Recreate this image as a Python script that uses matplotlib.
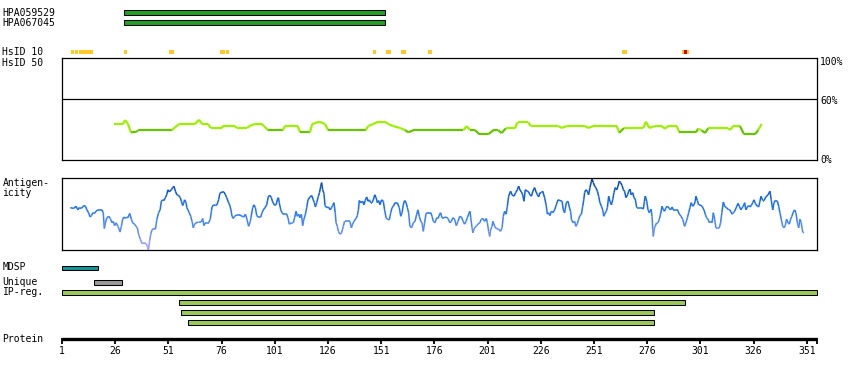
import numpy as np
import matplotlib
matplotlib.use("Agg")
import matplotlib.pyplot as plt
from matplotlib.collections import LineCollection
from matplotlib.colors import LinearSegmentedColormap
from matplotlib.patches import Rectangle

plt.rcParams['font.family'] = ['DejaVu Sans Mono']

protein_length = 355

# antibody target regions (start, end residue)
antibodies = ["HPA059529", "HPA067045"]
antibody_regions = [(30, 152), (30, 152)]

# HsID 10 hits (start, end residue)
hsid10_hits = [(5.2, 6.6), (7.3, 8.5), (9.0, 15.6), (30.1, 31.5), (51.3, 53.6),
               (75.2, 77.7), (78.1, 79.5), (147.1, 148.6), (153.3, 155.6),
               (160.3, 162.7), (173.0, 174.9), (264.2, 266.5), (292.4, 295.6)]
hsid10_red = [(293.3, 294.7)]

# sequence identity (%) along the protein
ident_pos = [25.4, 29.5, 30.7, 32.0, 33.4, 36.1, 36.6, 52.5, 56.0, 63.5, 65.4, 66.8,
             69.6, 70.9, 76.0, 76.8, 82.3, 83.1, 88.1, 89.0, 91.7, 94.8, 95.9, 97.9,
             104.7, 105.8, 111.8, 112.8, 117.5, 118.6, 121.9, 124.6, 126.1, 143.7,
             144.9, 147.3, 149.6, 152.8, 154.3, 156.7, 159.8, 162.2, 163.7, 166.1,
             189.6, 191.2, 192.7, 195.1, 197.1, 201.3, 203.7, 206.0, 207.6, 209.6,
             213.9, 215.1, 220.1, 221.3, 234.2, 235.8, 238.2, 246.8, 248.3, 250.7,
             261.7, 262.9, 265.1, 274.2, 275.4, 277.0, 279.7, 282.8, 284.4, 285.9,
             289.9, 291.1, 298.9, 300.0, 301.6, 303.2, 304.7, 314.1, 314.9, 316.5,
             319.6, 321.5, 326.7, 328.2, 329.8]
ident_pct = [35.1, 35.1, 39.3, 35.4, 27.2, 27.8, 29.2, 29.2, 35.4, 35.4, 39.6, 35.4,
             35.4, 31.5, 31.5, 33.4, 33.4, 31.5, 31.5, 33.4, 35.4, 35.4, 33.4, 29.2,
             29.2, 33.4, 33.4, 27.2, 27.2, 35.4, 37.7, 35.4, 29.2, 29.2,
             33.4, 35.4, 37.7, 37.7, 35.4, 33.4, 31.5, 29.5, 27.2, 29.2,
             29.2, 33.4, 29.5, 29.5, 25.3, 25.3, 29.2, 29.2, 26.5, 31.2,
             31.2, 37.1, 37.1, 33.4, 33.4, 31.5, 33.4, 33.4, 31.5, 33.4,
             33.4, 26.8, 31.5, 31.5, 37.7, 31.5, 33.4, 33.4, 30.8, 33.4,
             33.4, 27.2, 27.2, 30.8, 29.2, 26.5, 31.2, 31.2, 29.5, 33.4,
             33.4, 25.3, 25.3, 29.5, 35.4]

# antigenicity score (0 = low, 1 = high)
antig_pos = [4.9, 6.5, 7.6, 8.5, 9.1, 10.1, 10.7, 11.3, 12.0, 12.7, 13.5, 14.2, 14.8,
             15.6, 16.2, 17.0, 17.9, 19.0, 19.8, 20.4, 20.9, 21.4, 22.1, 22.9, 23.7,
             24.5, 25.1, 25.7, 26.4, 27.3, 28.3, 28.9, 29.5, 30.1, 30.8, 31.4, 32.0,
             32.8, 33.6, 34.2, 35.1, 35.8, 36.4, 37.0, 37.8, 38.6, 39.5, 40.5, 41.1,
             41.6, 42.2, 42.7, 43.3, 44.1, 44.9, 45.6, 46.4, 47.1, 47.7, 48.3, 48.9,
             49.6, 50.2, 50.8, 51.4, 52.4, 53.0, 53.6, 54.3, 55.0, 55.8, 56.6, 57.1,
             57.7, 58.2, 58.6, 59.3, 59.7, 60.2, 60.8, 61.5, 62.1, 62.7, 63.3, 64.0,
             65.2, 66.5, 67.1, 67.7, 68.4, 69.9, 70.7, 71.2, 71.5, 72.3, 73.1, 73.8,
             74.6, 75.2, 76.2, 77.1, 77.8, 78.4, 79.3, 79.8, 80.4, 80.9, 81.5, 82.1,
             83.2, 84.5, 85.6, 86.4, 87.2, 87.9, 88.7, 89.5,
             89.8, 90.6, 91.2, 91.9, 92.5, 93.3, 94.4, 95.0, 95.6, 96.4, 97.2, 98.0,
             98.8, 99.4, 100.0, 100.8, 101.6, 102.2, 102.7, 103.1, 103.8, 104.4, 105.0,
             106.6, 107.2, 107.8, 109.0, 109.7, 110.3, 111.0, 111.6, 112.2, 112.8,
             113.5, 114.1, 114.7, 115.4, 116.0, 116.6, 117.6, 118.3, 119.1, 119.6,
             120.1, 120.7, 121.5, 122.0, 122.6, 123.0, 123.5, 124.1, 124.6, 125.4,
             126.2, 127.0, 127.6, 128.2, 128.8, 129.4, 129.8, 130.4, 130.9, 131.6,
             132.4, 133.2, 133.8, 134.8, 136.3, 137.0, 137.6, 138.2, 139.2, 139.8,
             140.3, 140.7, 141.5, 142.3, 142.9, 143.5, 144.2, 144.8, 145.4, 146.1,
             146.7, 147.3, 148.0, 148.6, 149.2, 149.8, 150.4, 151.2, 152.0, 152.6,
             153.3, 153.9, 154.8, 155.5, 156.1, 156.7, 157.6, 158.6, 159.5, 160.2,
             160.8, 161.4, 162.0, 162.7, 163.3, 163.9, 164.5, 165.3, 166.1, 166.9,
             167.7, 168.3, 168.9, 169.6, 170.2, 170.8, 171.4, 172.1, 173.2, 174.3,
             174.9, 175.5, 176.3, 177.1,
             177.7, 178.5, 178.9, 179.6, 180.5, 181.5, 182.4, 183.3, 184.0, 184.7,
             185.5, 186.3, 187.1, 187.9, 188.7, 189.5, 190.2, 190.9, 191.5, 192.1,
             192.7, 193.1, 193.7, 194.1, 194.6, 195.2, 195.9, 196.5, 197.3, 198.1,
             198.8, 199.6, 200.4, 200.9, 201.5, 202.0, 202.4, 203.1, 203.5, 204.3,
             205.1, 206.2, 207.1, 207.8, 208.4, 209.0, 209.7, 210.3, 210.9, 211.8,
             212.5, 213.4, 214.2, 215.0, 215.6, 216.2, 216.9, 217.5, 218.1, 218.7,
             219.7, 220.3, 220.9, 221.6, 222.3, 223.1, 223.8, 224.4, 225.0, 225.6,
             226.3, 226.9, 227.8, 228.5, 229.1, 229.7, 230.3, 231.0, 231.7, 232.5,
             233.3, 234.1, 235.0, 236.0, 236.6, 237.2, 238.0, 238.8, 239.4, 240.0,
             240.4, 241.1, 241.9, 242.5, 243.2, 243.8, 244.4, 245.1, 245.7, 246.2,
             246.6, 247.2, 247.9, 248.5, 249.1, 249.8, 250.1, 250.7, 251.3, 251.9,
             252.6, 253.2, 253.8, 254.5, 255.1, 255.6, 256.0, 256.8, 257.3, 257.9,
             258.5, 259.2, 259.8, 260.4, 261.0, 261.7, 262.3, 262.9, 263.5, 264.2,
             264.8, 265.4,
             266.0, 266.8, 267.3, 267.9, 268.5, 269.2, 269.8, 270.4, 271.1, 272.3,
             273.6, 274.2, 274.7, 275.1, 275.8, 276.4, 277.0, 277.8, 278.3, 278.6,
             278.9, 279.4, 279.8, 280.4, 281.1, 281.7, 282.3, 283.0, 283.6, 284.2,
             284.8, 285.5, 286.4, 287.0, 287.7, 288.3, 289.5, 290.3, 291.1, 291.9,
             292.7, 293.6, 294.2, 294.9, 295.5, 296.1, 296.7, 297.4, 298.0, 298.6,
             298.9, 299.6, 300.2, 300.8, 301.8, 302.7, 303.3, 303.9, 304.6, 305.2,
             305.8, 306.5, 307.1, 307.7, 308.3, 309.1, 309.9, 310.5, 311.1, 311.8,
             312.4, 313.3, 314.3, 314.9, 315.9, 316.5, 317.1, 318.0, 318.7, 319.3,
             320.1, 320.6, 321.2, 321.8, 322.4, 323.1, 323.7, 324.3, 324.9, 325.6,
             326.2, 326.8, 327.8, 328.4, 329.0, 329.5, 330.3, 330.9, 331.8, 332.8,
             333.7, 334.3, 335.0, 335.6, 336.2, 337.2, 337.8, 338.4, 339.0, 339.7,
             340.3, 340.9, 341.5, 342.2, 342.8, 343.4, 344.0, 344.7, 345.3, 345.9,
             346.6, 347.2, 347.8, 348.4, 349.1, 349.7]
antig_val = [0.59, 0.58, 0.61, 0.56, 0.59, 0.58, 0.60, 0.62, 0.61, 0.56, 0.52, 0.46, 0.48,
             0.52, 0.51, 0.54, 0.56, 0.56, 0.56, 0.52, 0.30, 0.38, 0.45, 0.47, 0.44,
             0.38, 0.40, 0.34, 0.38, 0.33, 0.25, 0.33, 0.43, 0.46, 0.44, 0.46, 0.45,
             0.51, 0.43, 0.38, 0.36, 0.33, 0.31, 0.22, 0.15, 0.09, 0.10, 0.09, 0.05,
             0.00, 0.13, 0.22, 0.28, 0.30, 0.29, 0.43, 0.52, 0.56, 0.68, 0.70, 0.69,
             0.73, 0.77, 0.84, 0.81, 0.84, 0.87, 0.89, 0.82, 0.77, 0.76, 0.73, 0.68,
             0.62, 0.66, 0.70, 0.66, 0.59, 0.56, 0.52, 0.47, 0.40, 0.31, 0.36, 0.38,
             0.39, 0.39, 0.44, 0.34, 0.38, 0.38, 0.43, 0.54, 0.60, 0.63, 0.62, 0.63,
             0.70, 0.79, 0.81, 0.81, 0.77, 0.73, 0.66, 0.63, 0.56, 0.47, 0.44, 0.47,
             0.49, 0.49, 0.47, 0.46, 0.50, 0.43, 0.33, 0.40,
             0.45, 0.59, 0.63, 0.59, 0.48, 0.46, 0.46, 0.52, 0.56, 0.59, 0.63, 0.75,
             0.76, 0.73, 0.67, 0.63, 0.63, 0.70, 0.73, 0.66, 0.56, 0.52, 0.50,
             0.50, 0.45, 0.36, 0.38, 0.38, 0.45, 0.54, 0.47, 0.50, 0.45,
             0.50, 0.34, 0.43, 0.50, 0.59, 0.70, 0.74, 0.76, 0.70, 0.66,
             0.60, 0.66, 0.75, 0.80, 0.89, 0.94, 0.84, 0.79, 0.62, 0.59,
             0.60, 0.56, 0.59, 0.62, 0.66, 0.52, 0.38, 0.33, 0.26, 0.22,
             0.24, 0.33, 0.40, 0.40, 0.40, 0.31, 0.36, 0.40, 0.44, 0.48,
             0.56, 0.69, 0.66, 0.68, 0.63, 0.69, 0.74, 0.68, 0.70, 0.66,
             0.66, 0.70, 0.77, 0.73, 0.66, 0.69, 0.63, 0.70, 0.68, 0.56,
             0.45, 0.43, 0.42, 0.52, 0.59, 0.61, 0.66, 0.66, 0.59, 0.47,
             0.52, 0.63, 0.69, 0.66, 0.59, 0.52, 0.33, 0.31, 0.38, 0.40,
             0.50, 0.56, 0.47, 0.40, 0.38, 0.26, 0.38, 0.51, 0.52, 0.52,
             0.47, 0.40, 0.38, 0.45,
             0.44, 0.50, 0.52, 0.45, 0.45, 0.46, 0.44, 0.38, 0.40, 0.45,
             0.43, 0.34, 0.40, 0.47, 0.46, 0.40, 0.36, 0.40, 0.45, 0.50,
             0.54, 0.45, 0.31, 0.24, 0.29, 0.32, 0.34, 0.36, 0.38, 0.43,
             0.44, 0.40, 0.44, 0.38, 0.26, 0.19, 0.28, 0.33, 0.40, 0.33,
             0.30, 0.29, 0.26, 0.31, 0.47, 0.54, 0.50, 0.61, 0.75, 0.82,
             0.77, 0.75, 0.80, 0.84, 0.89, 0.84, 0.81, 0.77, 0.68, 0.84,
             0.82, 0.81, 0.77, 0.75, 0.82, 0.87, 0.81, 0.77, 0.74, 0.80,
             0.80, 0.82, 0.73, 0.63, 0.50, 0.52, 0.48, 0.54, 0.52, 0.56,
             0.63, 0.70, 0.69, 0.68, 0.56, 0.52, 0.66, 0.68, 0.60, 0.54,
             0.43, 0.38, 0.40, 0.33, 0.37, 0.43, 0.48, 0.50, 0.61, 0.70,
             0.80, 0.84, 0.82, 0.77, 0.87, 0.96, 0.99, 0.94, 0.89, 0.87,
             0.82, 0.75, 0.66, 0.61, 0.56, 0.47, 0.50, 0.54, 0.59, 0.75,
             0.68, 0.63, 0.70, 0.80, 0.87, 0.84, 0.89, 0.96, 0.94, 0.90,
             0.84, 0.82,
             0.73, 0.77, 0.82, 0.85, 0.77, 0.80, 0.73, 0.71, 0.59, 0.59,
             0.59, 0.57, 0.68, 0.75, 0.68, 0.56, 0.52, 0.57, 0.47, 0.29,
             0.19, 0.31, 0.33, 0.38, 0.38, 0.43, 0.50, 0.61, 0.56, 0.54,
             0.59, 0.61, 0.58, 0.56, 0.60, 0.56, 0.56, 0.56, 0.50, 0.47,
             0.43, 0.33, 0.38, 0.45, 0.52, 0.59, 0.66, 0.61, 0.63, 0.68,
             0.75, 0.69, 0.63, 0.63, 0.61, 0.56, 0.50, 0.45, 0.43, 0.38,
             0.40, 0.38, 0.52, 0.43, 0.31, 0.30, 0.31, 0.38, 0.52, 0.67,
             0.61, 0.59, 0.56, 0.56, 0.50, 0.52, 0.54, 0.60, 0.65, 0.61,
             0.56, 0.59, 0.61, 0.66, 0.56, 0.60, 0.62, 0.60, 0.62, 0.66,
             0.70, 0.65, 0.61, 0.60, 0.68, 0.75, 0.69, 0.69, 0.74, 0.77,
             0.82, 0.70, 0.56, 0.66, 0.69, 0.68, 0.61, 0.52, 0.43, 0.33,
             0.31, 0.34, 0.43, 0.38, 0.36, 0.43, 0.47, 0.53, 0.56, 0.52,
             0.38, 0.31, 0.43, 0.38, 0.25, 0.24]

# feature tracks (start, end residue)
mdsp_region = (1, 17)
unique_region = (16, 28)
ip_regions = [(1, 355), (56, 293), (57, 278), (60, 278)]

tick_res = list(range(1, 352, 25))

# ---- layout (pixels) ----
W, H = 850, 380
LEFT = 62
PPR = 755.4 / protein_length      # pixels per residue


def rx(px):
    # pixel column -> residue coordinate
    return 1 + (px - LEFT) / PPR


fig = plt.figure(figsize=(W / 100, H / 100), dpi=100)
fig.patch.set_facecolor('white')

ax = fig.add_axes([0, 0, 1, 1])
ax.set_xlim(rx(0), rx(W))
ax.set_ylim(H, 0)
ax.axis('off')

fs = 7


def bar(start, end, yc, color, h=4.4):
    ax.add_patch(Rectangle((start, yc - h / 2), end + 1 - start, h,
                           facecolor=color, edgecolor='black', lw=0.75))


# antibodies
for name, (s, e), yc in zip(antibodies, antibody_regions, [12.5, 22.5]):
    bar(s, e, yc, '#22a022')
    ax.text(rx(2.5), yc, name, fontsize=fs, va='center', ha='left')

# HsID rows
ax.text(rx(2.5), 52, "HsID 10", fontsize=fs, va='center')
ax.text(rx(2.5), 62.5, "HsID 50", fontsize=fs, va='center')
for s, e in hsid10_hits:
    ax.add_patch(Rectangle((s, 49.7), e - s, 4.6, facecolor='#ffc822', lw=0))
for s, e in hsid10_red:
    ax.add_patch(Rectangle((s, 49.7), e - s, 4.6, facecolor='#dd0000', lw=0))

# identity panel
ax_id = fig.add_axes([LEFT / W, (H - 160) / H, 755.4 / W, 101.7 / H])
ax_id.set_xlim(1, protein_length + 1)
ax_id.set_ylim(0, 100)
ax_id.set_xticks([])
ax_id.set_yticks([])
for sp in ax_id.spines.values():
    sp.set_linewidth(0.9)
ax_id.axhline(60, color='black', lw=0.9)
pts = np.column_stack([ident_pos, ident_pct])
segs = np.stack([pts[:-1], pts[1:]], axis=1)
mean = (pts[:-1, 1] + pts[1:, 1]) / 2
cols = ['#9cf000' if m >= 30 else '#66c400' for m in mean]
ax_id.add_collection(LineCollection(segs, colors=cols, linewidths=1.6,
                                    capstyle='butt', joinstyle='miter'))
ax.text(rx(820), 62, "100%", fontsize=fs, va='center')
ax.text(rx(820), 100.5, "60%", fontsize=fs, va='center')
ax.text(rx(820), 160, "0%", fontsize=fs, va='center')

# antigenicity panel
ax.text(rx(2.5), 182.5, "Antigen-", fontsize=fs, va='center')
ax.text(rx(2.5), 192.5, "icity", fontsize=fs, va='center')
ax_ag = fig.add_axes([LEFT / W, (H - 250) / H, 755.4 / W, 71.7 / H])
ax_ag.set_xlim(1, protein_length + 1)
ax_ag.set_ylim(0, 1)
ax_ag.set_xticks([])
ax_ag.set_yticks([])
for sp in ax_ag.spines.values():
    sp.set_linewidth(0.9)
cmap = LinearSegmentedColormap.from_list(
    'ag', [(0, '#aaa2ff'), (0.22, '#6a8cff'), (0.4, '#3e84ff'),
           (0.6, '#1a70f5'), (0.82, '#0a5ad6'), (1, '#083c90')])
pts = np.column_stack([antig_pos, antig_val])
segs = np.stack([pts[:-1], pts[1:]], axis=1)
lc = LineCollection(segs, cmap=cmap, linewidths=1.1)
lc.set_array((pts[:-1, 1] + pts[1:, 1]) / 2)
lc.set_clim(0, 1)
ax_ag.add_collection(lc)

# feature tracks
ax.text(rx(2.5), 267.5, "MDSP", fontsize=fs, va='center')
bar(mdsp_region[0], mdsp_region[1], 267.8, '#109898')
ax.text(rx(2.5), 282, "Unique", fontsize=fs, va='center')
bar(unique_region[0], unique_region[1], 282.3, '#999999')
ax.text(rx(2.5), 292, "IP-reg.", fontsize=fs, va='center')
for (s, e), yc in zip(ip_regions, [292.3, 302.5, 312.5, 322.5]):
    bar(s, e, yc, '#9cc955')

# protein axis
ax.text(rx(2.5), 339, "Protein", fontsize=fs, va='center')
ax.plot([1, protein_length + 1], [339, 339], color='black', lw=2.4,
        solid_capstyle='butt')
ax.vlines(tick_res + [protein_length + 1], 338, 344, color='black', lw=1.3)
for t in tick_res:
    ax.text(t, 351.5, str(t), fontsize=fs, ha='center', va='center')

fig.savefig("out.png", dpi=100, facecolor='white')
